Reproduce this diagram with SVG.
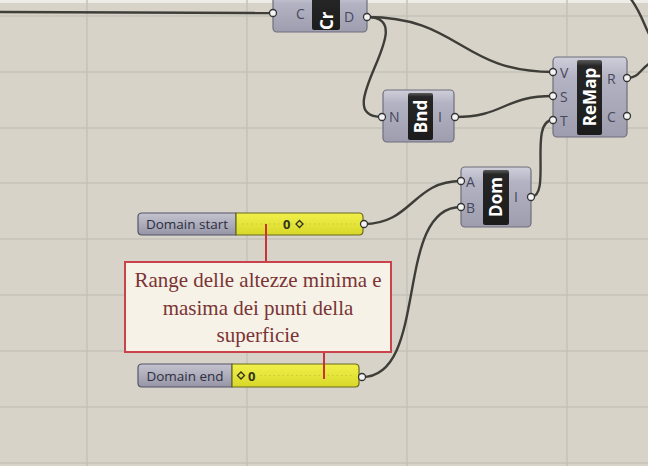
<svg xmlns="http://www.w3.org/2000/svg" width="648" height="466" viewBox="0 0 648 466">
<defs>
<linearGradient id="body" x1="0" y1="0" x2="0" y2="1">
<stop offset="0" stop-color="#cfcfdb"/>
<stop offset="0.25" stop-color="#b3b3c3"/>
<stop offset="1" stop-color="#9d9daf"/>
</linearGradient>
<linearGradient id="lbl" x1="0" y1="0" x2="0" y2="1">
<stop offset="0" stop-color="#5a5a5a"/>
<stop offset="0.08" stop-color="#262626"/>
<stop offset="1" stop-color="#1c1c1c"/>
</linearGradient>
<linearGradient id="sgray" x1="0" y1="0" x2="0" y2="1">
<stop offset="0" stop-color="#c4c4d0"/>
<stop offset="1" stop-color="#9595a6"/>
</linearGradient>
<linearGradient id="syel" x1="0" y1="0" x2="0" y2="1">
<stop offset="0" stop-color="#f0f04a"/>
<stop offset="1" stop-color="#d8d82a"/>
</linearGradient>
</defs>
<style>
.bg{fill:#d7d3c9}
.grid{stroke:#c5c2b8;stroke-width:1.5}
.wire{fill:none;stroke:#3e3d38;stroke-width:2.4}
.body{fill:url(#body);stroke:#6e6e7c;stroke-width:1.2}
.lbl{fill:url(#lbl)}
.port{fill:#f4f4f4;stroke:#333;stroke-width:1.3}
.pl{font-family:"Open Sans","DejaVu Sans",sans-serif;font-size:14px;fill:#48485c}
.nm{font-family:"Open Sans","DejaVu Sans",sans-serif;font-size:17px;font-weight:bold;fill:#ffffff}
.sg{fill:url(#sgray);stroke:#55556a;stroke-width:1.2}
.sy{fill:url(#syel);stroke:#6a6a20;stroke-width:1.2}
.st{font-family:"Open Sans","DejaVu Sans",sans-serif;font-size:13.5px;fill:#2e2e40}
.sv{font-family:"Open Sans","DejaVu Sans",sans-serif;font-size:13px;font-weight:bold;fill:#333318}
.track{stroke:#c9c93a;stroke-width:1;stroke-dasharray:1.5 3}
.red{stroke:#c8323a;stroke-width:2}
.box{fill:#f6f2e8;stroke:#c8444a;stroke-width:2}
.ct{font-family:"Liberation Serif","DejaVu Serif",serif;font-size:21px;fill:#7a3434;text-anchor:middle}
</style>
<rect class="bg" x="0" y="0" width="648" height="466"/>
<rect x="0" y="0" width="648" height="3" fill="#eeece6"/>
<g id="grid">
<line class="grid" x1="87" y1="0" x2="87" y2="466"/>
<line class="grid" x1="247" y1="0" x2="247" y2="466"/>
<line class="grid" x1="407" y1="0" x2="407" y2="466"/>
<line class="grid" x1="567" y1="0" x2="567" y2="466"/>
<line class="grid" x1="0" y1="16" x2="648" y2="16"/>
<line class="grid" x1="0" y1="72" x2="648" y2="72"/>
<line class="grid" x1="0" y1="128" x2="648" y2="128"/>
<line class="grid" x1="0" y1="183" x2="648" y2="183"/>
<line class="grid" x1="0" y1="239" x2="648" y2="239"/>
<line class="grid" x1="0" y1="295" x2="648" y2="295"/>
<line class="grid" x1="0" y1="351" x2="648" y2="351"/>
<line class="grid" x1="0" y1="407" x2="648" y2="407"/>
<line class="grid" x1="0" y1="463" x2="648" y2="463"/>
</g>
<g id="connectors">
<path class="wire" d="M0,12 L273,13"/>
<path class="wire" d="M367,17 C460,17 460,72 553,72"/>
<path class="wire" d="M367,17 C425,17 325,117 382,117"/>
<path class="wire" d="M455,117 C504,117 504,96 553,96"/>
<path class="wire" d="M531,197 C552,197 528,120 553,120"/>
<path class="wire" d="M364,224 C412,224 413,181 461,181"/>
<path class="wire" d="M362,377 C430,377 393,207 461,207"/>
<path class="wire" d="M627,78 C640,78 640,68 652,62"/>
<path class="wire" d="M630,-2 C640,10 644,25 650,36"/>
</g>
<g id="node-cr">
<rect class="body" x="273" y="-6" width="94" height="38" rx="4"/>
<rect class="lbl" x="312" y="-6" width="28" height="36" rx="2"/>
<text class="nm" transform="translate(332.5,30) rotate(-90)" font-size="18">Cr</text>
<text class="pl" x="296" y="19">C</text>
<text class="pl" x="344" y="22">D</text>
<circle class="port" cx="273" cy="13" r="3.5"/>
<circle class="port" cx="367" cy="17" r="3.5"/>
</g>
<g id="node-bnd">
<rect class="body" x="383" y="90" width="71" height="52" rx="4"/>
<rect class="lbl" x="408" y="93" width="25" height="47" rx="2"/>
<text class="nm" text-anchor="middle" transform="translate(427,116.5) rotate(-90)">Bnd</text>
<text class="pl" x="389" y="122">N</text>
<text class="pl" x="438" y="122">I</text>
<circle class="port" cx="382" cy="117" r="3.5"/>
<circle class="port" cx="455" cy="117" r="3.5"/>
</g>
<g id="node-remap">
<rect class="body" x="553" y="57" width="74" height="80" rx="4"/>
<rect class="lbl" x="577" y="60" width="25" height="75" rx="2"/>
<text class="nm" text-anchor="middle" transform="translate(595.5,97) rotate(-90)" font-size="18">ReMap</text>
<text class="pl" x="560" y="78">V</text>
<text class="pl" x="560" y="102">S</text>
<text class="pl" x="560" y="126">T</text>
<text class="pl" x="607" y="84">R</text>
<text class="pl" x="607" y="122">C</text>
<circle class="port" cx="553" cy="72" r="3.5"/>
<circle class="port" cx="553" cy="96" r="3.5"/>
<circle class="port" cx="553" cy="120" r="3.5"/>
<circle class="port" cx="627" cy="78" r="3.5"/>
<circle class="port" cx="627" cy="116" r="3.5"/>
</g>
<g id="node-dom">
<rect class="body" x="461" y="167" width="70" height="60" rx="4"/>
<rect class="lbl" x="483" y="170" width="26" height="55" rx="2"/>
<text class="nm" text-anchor="middle" transform="translate(502,197) rotate(-90)" font-size="18">Dom</text>
<text class="pl" x="466" y="187">A</text>
<text class="pl" x="466" y="213">B</text>
<text class="pl" x="514" y="202">I</text>
<circle class="port" cx="461" cy="181" r="3.5"/>
<circle class="port" cx="461" cy="207" r="3.5"/>
<circle class="port" cx="531" cy="197" r="3.5"/>
</g>
<g id="slider-start">
<path class="sg" d="M236,213 L142,213 Q138,213 138,217 L138,231 Q138,235 142,235 L236,235 Z"/>
<path class="sy" d="M236,213 L359,213 Q363,213 363,217 L363,231 Q363,235 359,235 L236,235 Z"/>
<line class="track" x1="242" y1="224" x2="358" y2="224"/>
<text class="st" x="187" y="229" text-anchor="middle">Domain start</text>
<text class="sv" x="283" y="229">0</text>
<rect x="297" y="221.5" width="5" height="5" fill="none" stroke="#333318" stroke-width="1.3" transform="rotate(45 299.5 224)"/>
<circle class="port" cx="364" cy="224" r="3.5"/>
</g>
<g id="slider-end">
<path class="sg" d="M232,364 L142,364 Q138,364 138,368 L138,383 Q138,387 142,387 L232,387 Z"/>
<path class="sy" d="M232,364 L355,364 Q359,364 359,368 L359,383 Q359,387 355,387 L232,387 Z"/>
<line class="track" x1="260" y1="375.5" x2="354" y2="375.5"/>
<text class="st" x="185" y="380.5" text-anchor="middle">Domain end</text>
<rect x="238.5" y="373" width="5" height="5" fill="none" stroke="#333318" stroke-width="1.3" transform="rotate(45 241 375.5)"/>
<text class="sv" x="248" y="380.5">0</text>
<circle class="port" cx="362" cy="377" r="3.5"/>
</g>
<g id="callout">
<line class="red" x1="266" y1="224" x2="266" y2="262"/>
<line class="red" x1="324" y1="352" x2="324" y2="379"/>
<rect class="box" x="125" y="262" width="266" height="90"/>
<text class="ct" x="258" y="287">Range delle altezze minima e</text>
<text class="ct" x="258" y="315">masima dei punti della</text>
<text class="ct" x="258" y="342">superficie</text>
</g>
</svg>
